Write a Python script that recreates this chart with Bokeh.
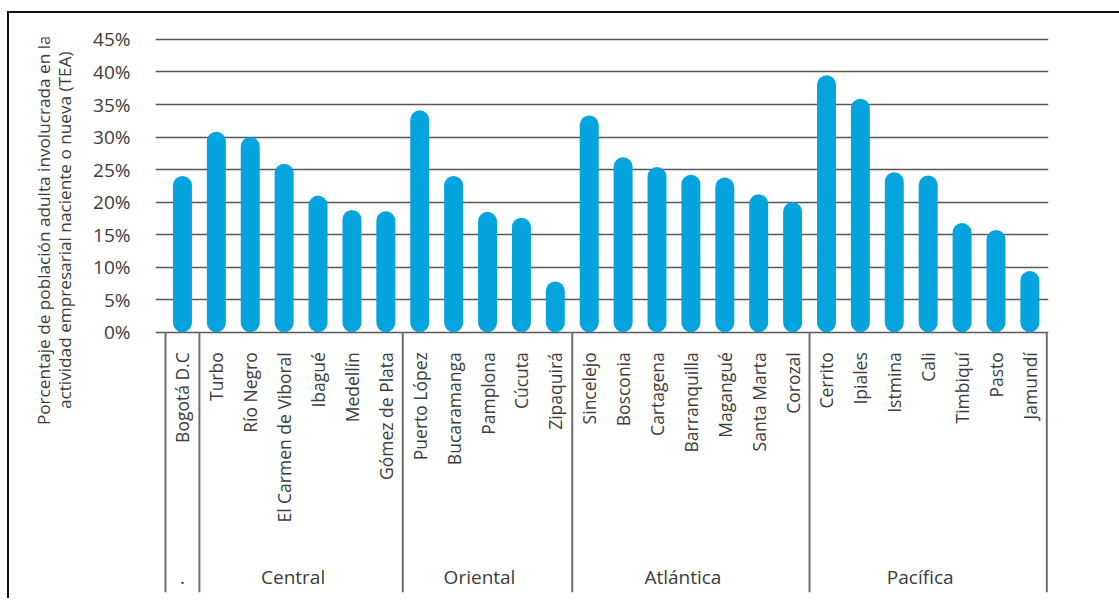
import math
from bokeh.plotting import figure
from bokeh.layouts import row
from bokeh.models import Range1d, FixedTicker, PrintfTickFormatter
from bokeh.core.properties import value
from bokeh.embed import file_html
from bokeh.resources import INLINE

# ---------------- data ----------------
cities = ["Bogotá D.C", "Turbo", "Río Negro", "El Carmen de Viboral", "Ibagué",
          "Medellín", "Gómez de Plata", "Puerto López", "Bucaramanga", "Pamplona",
          "Cúcuta", "Zipaquirá", "Sincelejo", "Bosconia", "Cartagena", "Barranquilla",
          "Magangué", "Santa Marta", "Corozal", "Cerrito", "Ipiales", "Istmina",
          "Cali", "Timbiquí", "Pasto", "Jamundí"]
tea = [24.0, 30.8, 30.0, 25.9, 21.0, 18.8, 18.6, 34.1, 24.0, 18.5, 17.6, 7.8,
       33.3, 26.9, 25.4, 24.2, 23.8, 21.2, 20.0, 39.5, 35.9, 24.6, 24.1, 16.8,
       15.7, 9.4]
group_names = [".", "Central", "Oriental", "Atlántica", "Pacífica"]
group_sizes = [1, 6, 5, 7, 7]
y_ticks = [0, 5, 10, 15, 20, 25, 30, 35, 40, 45]
y_label_lines = ["Porcentaje de población adulta involucrada en la",
                 "actividad empresarial naciente o nueva (TEA)"]

# ---------------- style ----------------
FONT = "Open Sans"
BLUE = "#06A4DE"
GRID = "#585858"
SEP = "#6e6e6e"
TXT = "#3c3c3c"

Y_MIN, Y_MAX = -40.0, 45.3
X_MIN, X_MAX = -0.295, 26.05
FRAME_H = 555
TOP, BOTTOM = 24, 6
HEIGHT = TOP + FRAME_H + BOTTOM
PX_Y = FRAME_H / (Y_MAX - Y_MIN)
TITLE_W = 81
MAIN_W = 1029

y_range = Range1d(Y_MIN, Y_MAX)

# ---------------- y title panel ----------------
pt = figure(width=TITLE_W, height=HEIGHT, x_range=Range1d(0, TITLE_W),
            y_range=y_range, output_backend="svg", toolbar_location=None,
            x_axis_location=None, y_axis_location=None,
            min_border_left=0, min_border_right=0, min_border_top=TOP,
            min_border_bottom=BOTTOM)
pt.outline_line_color = None
pt.grid.visible = False
title_y = 102 / PX_Y
pt.text(x=[34, 55], y=[title_y, title_y], text=y_label_lines, angle=math.pi / 2,
        text_align="center", text_baseline="middle", text_font=value(FONT),
        text_font_size="17.2px", text_color=TXT)

# ---------------- main chart ----------------
p = figure(width=MAIN_W, height=HEIGHT,
           x_range=Range1d(X_MIN, X_MAX), y_range=y_range,
           output_backend="svg", toolbar_location=None, x_axis_location=None,
           min_border_left=65, min_border_right=71, min_border_top=TOP,
           min_border_bottom=BOTTOM)
p.outline_line_color = None

p.yaxis.ticker = FixedTicker(ticks=y_ticks)
p.yaxis.formatter = PrintfTickFormatter(format="%d%%")
p.yaxis.axis_line_color = None
p.yaxis.major_tick_line_color = None
p.yaxis.minor_tick_line_color = None
p.yaxis.major_label_standoff = 19
p.yaxis.major_label_text_font = FONT
p.yaxis.major_label_text_font_size = "19px"
p.yaxis.major_label_text_color = TXT

p.xgrid.visible = False
p.ygrid.ticker = FixedTicker(ticks=y_ticks)
p.ygrid.grid_line_color = GRID
p.ygrid.grid_line_width = 1.7

xs = [i + 0.5 for i in range(len(cities))]
p.vbar(x=xs, top=tea, bottom=0, width=0.56, fill_color=BLUE, line_color=None,
       border_radius=10)

label_y = -20 / PX_Y
p.text(x=xs, y=[label_y] * len(xs), text=cities, angle=math.pi / 2,
       text_align="right", text_baseline="middle", text_font=value(FONT),
       text_font_size="17.5px", text_color=TXT)

bounds = [0]
for s in group_sizes:
    bounds.append(bounds[-1] + s)
p.segment(x0=bounds, y0=[0] * len(bounds), x1=bounds, y1=[Y_MIN] * len(bounds),
          line_color=SEP, line_width=2)
centers = [(bounds[i] + bounds[i + 1]) / 2 for i in range(len(group_sizes))]
group_y = -245 / PX_Y
p.text(x=centers, y=[group_y] * len(centers), text=group_names,
       x_offset=[0 if len(g) == 1 else -8 for g in group_names],
       text_align="center", text_baseline="middle", text_font=value(FONT),
       text_font_size="19px", text_color=TXT)

layout = row(pt, p, styles={"border-top": "2px solid #111",
                            "border-left": "2px solid #111",
                            "margin-left": "7px", "margin-top": "11px"})

open("out.html", "w").write(file_html(layout, INLINE))
